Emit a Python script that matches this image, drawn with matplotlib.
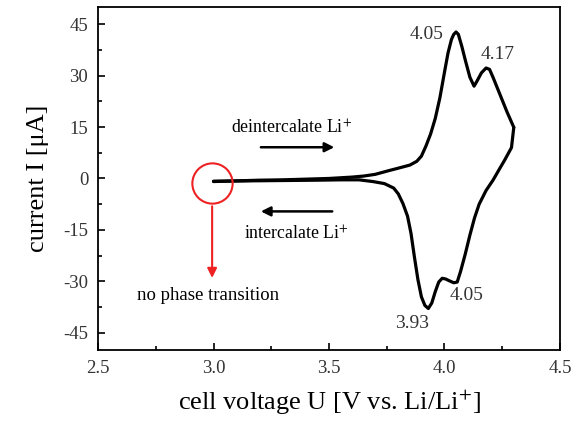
import matplotlib
matplotlib.use("Agg")
import matplotlib.pyplot as plt
from matplotlib.ticker import MultipleLocator

plt.rcParams['font.family'] = ['Liberation Serif', 'DejaVu Serif']
plt.rcParams['mathtext.fontset'] = 'stix'

# forward (oxidation) scan
v_fwd = [3.00, 3.10, 3.20, 3.30, 3.40, 3.50, 3.60, 3.65, 3.70, 3.76, 3.80, 3.85, 3.88,
         3.90, 3.92, 3.94, 3.96, 3.98, 4.00, 4.015, 4.03, 4.04, 4.05, 4.06, 4.075, 4.09,
         4.11, 4.128, 4.14, 4.16, 4.18, 4.195, 4.21, 4.24, 4.27, 4.30]
i_fwd = [-0.9, -0.7, -0.5, -0.4, -0.2, 0.0, 0.4, 0.7, 1.2, 2.3, 3.0, 3.9, 5.0,
         6.5, 9.5, 13.0, 17.5, 23.5, 31.0, 36.5, 40.5, 42.0, 42.7, 42.0, 38.5, 34.5,
         29.5, 26.9, 28.3, 30.8, 32.2, 31.8, 29.5, 24.5, 19.5, 14.9]
# reverse (reduction) scan
v_rev = [4.30, 4.29, 4.26, 4.24, 4.21, 4.18, 4.15, 4.13, 4.11, 4.09, 4.07, 4.055, 4.04,
         4.02, 4.005, 3.99, 3.975, 3.96, 3.945, 3.93, 3.915, 3.90, 3.885, 3.87, 3.855,
         3.84, 3.82, 3.80, 3.78, 3.74, 3.69, 3.63, 3.55, 3.45, 3.30, 3.15, 3.00]
i_rev = [14.9, 9.0, 5.3, 3.0, -0.5, -3.5, -7.5, -11.5, -16.5, -22.0, -27.0, -30.2, -30.4,
         -29.8, -29.3, -29.1, -30.2, -33.0, -36.3, -37.9, -37.0, -34.5, -29.5, -23.0, -16.0,
         -11.0, -7.3, -4.5, -2.8, -1.5, -0.9, -0.4, -0.4, -0.5, -0.6, -0.7, -0.8]

peak_labels = ["4.05", "4.17", "4.05", "3.93"]
peak_pos = [(3.924, 42.1), (4.232, 36.0), (4.097, -34.2), (3.859, -42.4)]

fig = plt.figure(figsize=(5.8, 4.23), dpi=100)
ax = fig.add_axes([0.169, 0.1726, 0.7965, 0.811])

ax.plot(v_fwd, i_fwd, color='black', lw=2.3, solid_joinstyle='round', solid_capstyle='round')
ax.plot(v_rev, i_rev, color='black', lw=2.3, solid_joinstyle='round', solid_capstyle='round')

ax.set_xlim(2.5, 4.5)
ax.set_ylim(-50, 50)
ax.xaxis.set_minor_locator(MultipleLocator(0.25))
ax.yaxis.set_minor_locator(MultipleLocator(7.5))
ax.set_xticks([2.5, 3.0, 3.5, 4.0, 4.5])
ax.set_xticklabels(["2.5", "3.0", "3.5", "4.0", "4.5"])
ax.set_yticks([-45, -30, -15, 0, 15, 30, 45])
ax.set_yticklabels(["-45", "-30", "-15", "0", "15", "30", "45"])
ax.tick_params(which='both', direction='in', top=False, right=False, width=1.2,
               labelsize=13.5, labelcolor='#333333')
ax.tick_params(which='major', length=5, pad=7)
ax.tick_params(which='minor', length=3)
for s in ax.spines.values():
    s.set_linewidth(1.3)

ax.set_xlabel("cell voltage U [V vs. Li/Li$^{+}$]", fontsize=19, labelpad=8)
ax.set_ylabel("current I [\u03bcA]", fontsize=19, labelpad=10)

for t, (x, y) in zip(peak_labels, peak_pos):
    ax.text(x, y, t, fontsize=14, color='#333333', ha='center', va='center')

# direction arrows
ax.annotate("", xy=(3.535, 9.1), xytext=(3.193, 9.1),
            arrowprops=dict(arrowstyle='-|>', color='black', lw=1.8, mutation_scale=14))
ax.annotate("", xy=(3.193, -9.6), xytext=(3.526, -9.6),
            arrowprops=dict(arrowstyle='-|>', color='black', lw=1.8, mutation_scale=14))
ax.text(3.34, 14.6, "deintercalate Li$^{+}$", fontsize=12.8, ha='center', va='center')
ax.text(3.36, -16.1, "intercalate Li$^{+}$", fontsize=12.8, ha='center', va='center')

# red marker
ax.plot([2.994], [-1.2], 'o', ms=29, mfc='none', mec='#ee2222', mew=1.5)
ax.annotate("", xy=(2.994, -29.8), xytext=(2.994, -7.3),
            arrowprops=dict(arrowstyle='-|>', color='#ee2222', lw=1.5, mutation_scale=14))
ax.text(2.976, -34.2, "no phase transition", fontsize=13.5, ha='center', va='center')

fig.savefig("out.png", dpi=100)
